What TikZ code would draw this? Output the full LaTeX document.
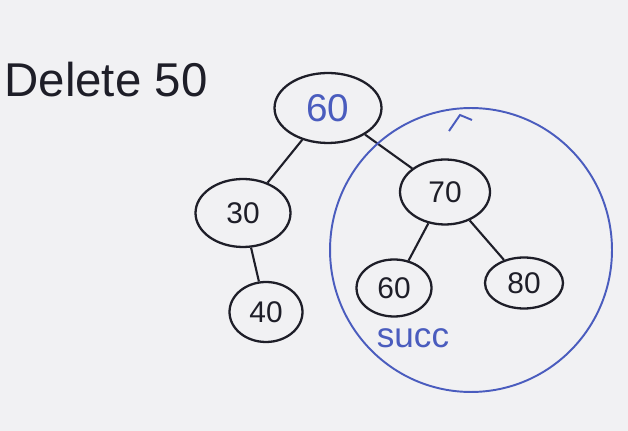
\documentclass[tikz,border=0pt]{standalone}
\usepackage{fontspec}
\setmainfont{Liberation Sans}
\usetikzlibrary{shapes.geometric}
\definecolor{board}{HTML}{F1F1F3}
\definecolor{pen}{HTML}{1E1E28}
\definecolor{bluepen}{HTML}{4A5CBE}
\begin{document}
\begin{tikzpicture}[x=0.02cm,y=-0.02cm,
    key/.style={ellipse,draw=pen,line width=1.3pt,inner sep=0pt,font=\fontsize{17}{17}\selectfont,text=pen},
    link/.style={draw=pen,line width=1.2pt}]
    \fill[board] (0,0) rectangle (628,431);
    \useasboundingbox (0,0) rectangle (628,431);
    % title
    \node[text=pen,font=\fontsize{27}{27}\selectfont] (title) at (106,80) {Delete 50};
    % tree nodes
    \node[key,text=bluepen,font=\fontsize{22}{22}\selectfont,minimum width=2.14cm,minimum height=1.4cm] (r60) at (328,108) {60};
    \node[key,minimum width=1.9cm,minimum height=1.36cm] (n30) at (243,213) {30};
    \node[key,minimum width=1.46cm,minimum height=1.2cm] (n40) at (266,312) {40};
    \node[key,minimum width=1.8cm,minimum height=1.3cm] (n70) at (445,192) {70};
    \node[key,minimum width=1.5cm,minimum height=1.14cm] (s60) at (394,288) {60};
    \node[key,minimum width=1.56cm,minimum height=1.02cm] (n80) at (524,283) {80};
    % edges
    \draw[link] (r60) -- (n30);
    \draw[link] (r60) -- (n70);
    \draw[link] (n30) -- (n40);
    \draw[link] (n70) -- (s60);
    \draw[link] (n70) -- (n80);
    % subtree circle
    \draw[bluepen,line width=1.1pt] (471,250) ellipse [x radius=2.82cm,y radius=2.84cm];
    \coordinate (tickA) at (449,131);
    \coordinate (tickB) at (460,115);
    \coordinate (tickC) at (472,120);
    \draw[bluepen,line width=1.1pt] (tickA) -- (tickB) -- (tickC);
    \node[text=bluepen,font=\fontsize{20}{20}\selectfont] (succ) at (413,338) {succ};
\end{tikzpicture}
\end{document}
